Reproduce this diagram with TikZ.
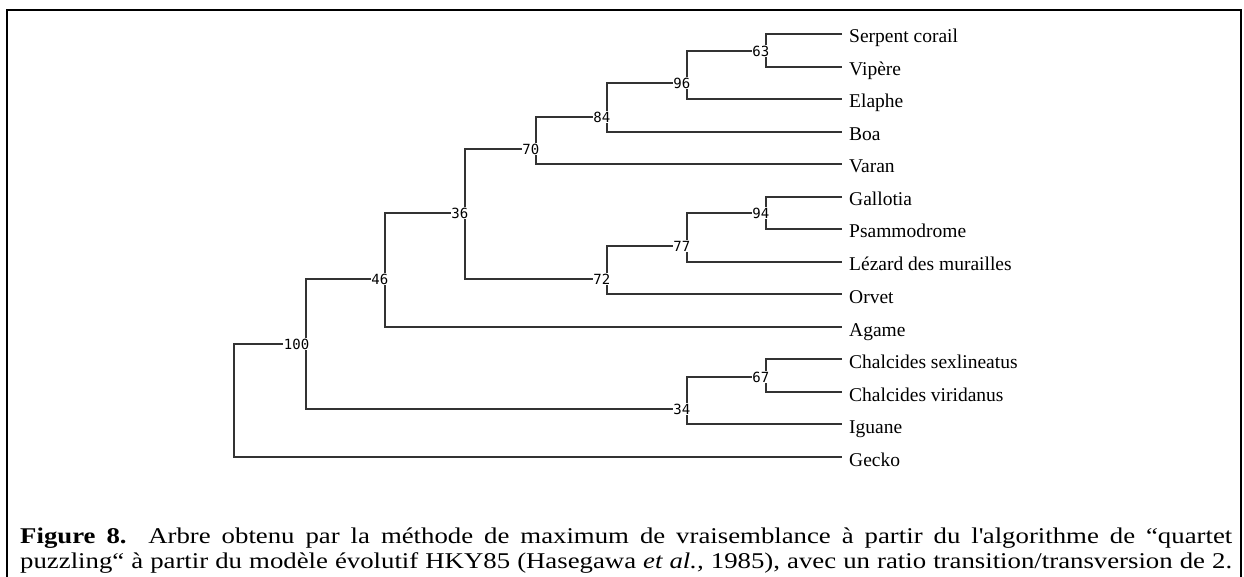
\documentclass[tikz,border=0pt]{standalone}
\usepackage{fontspec}
\setmainfont{Liberation Serif}
\newfontfamily\capfont{Liberation Serif}[FakeStretch=1.19]
\newfontfamily\bootfont{DejaVu Sans Mono}
\tikzset{
  branch/.style={draw=black!80, line width=2pt},
  leaf/.style={anchor=west, inner ysep=0pt, inner xsep=7pt,
               text height=18pt, text depth=0pt,
               font=\fontsize{19.5}{21}\selectfont},
  boot/.style={anchor=east, fill=white, inner sep=0.6pt, text=black,
               font=\bootfont\fontsize{14}{14}\selectfont},
  frame/.style={draw=black, line width=2pt}
}
\begin{document}
\begin{tikzpicture}[x=1pt, y=-1pt]
\useasboundingbox (0,0) rectangle (1244,577);
% outer frame
\draw[frame] (7,577) -- (7,10) -- (1241,10) -- (1241,577);

% leaves (tips end at x = 842)
\node[leaf] (serp)  at (842,34)  {Serpent corail};
\node[leaf] (vip)   at (842,67)  {Vipère};
\node[leaf] (ela)   at (842,99)  {Elaphe};
\node[leaf] (boa)   at (842,132) {Boa};
\node[leaf] (var)   at (842,164) {Varan};
\node[leaf] (gal)   at (842,197) {Gallotia};
\node[leaf] (psa)   at (842,229) {Psammodrome};
\node[leaf] (lez)   at (842,262) {Lézard des murailles};
\node[leaf] (orv)   at (842,294) {Orvet};
\node[leaf] (aga)   at (842,327) {Agame};
\node[leaf] (csex)  at (842,359) {Chalcides sexlineatus};
\node[leaf] (cvir)  at (842,392) {Chalcides viridanus};
\node[leaf] (igu)   at (842,424) {Iguane};
\node[leaf] (gec)   at (842,457) {Gecko};

% internal nodes
\coordinate (n63)  at (766,51);
\coordinate (n96)  at (687,83);
\coordinate (n84)  at (607,117);
\coordinate (n70)  at (536,149);
\coordinate (n94)  at (766,213);
\coordinate (n77)  at (687,246);
\coordinate (n72)  at (607,279);
\coordinate (n36)  at (465,213);
\coordinate (n46)  at (385,279);
\coordinate (n67)  at (766,377);
\coordinate (n34)  at (687,409);
\coordinate (n100) at (306,344);
\coordinate (root) at (234,344);

% branches
\draw[branch] (serp.west) -| (n63) |- (vip.west);
\draw[branch] (n63) -| (n96) |- (ela.west);
\draw[branch] (n96) -| (n84) |- (boa.west);
\draw[branch] (n84) -| (n70) |- (var.west);
\draw[branch] (gal.west) -| (n94) |- (psa.west);
\draw[branch] (n94) -| (n77) |- (lez.west);
\draw[branch] (n77) -| (n72) |- (orv.west);
\draw[branch] (n70) -| (n36) |- (n72);
\draw[branch] (n36) -| (n46) |- (aga.west);
\draw[branch] (csex.west) -| (n67) |- (cvir.west);
\draw[branch] (n67) -| (n34) |- (igu.west);
\draw[branch] (n46) -| (n100) |- (n34);
\draw[branch] (n100) -- (root) |- (gec.west);

% support values
\node[boot] (b63)  at ([xshift=4pt]n63)  {63};
\node[boot] (b96)  at ([xshift=4pt]n96)  {96};
\node[boot] (b84)  at ([xshift=4pt]n84)  {84};
\node[boot] (b70)  at ([xshift=4pt]n70)  {70};
\node[boot] (b94)  at ([xshift=4pt]n94)  {94};
\node[boot] (b77)  at ([xshift=4pt]n77)  {77};
\node[boot] (b72)  at ([xshift=4pt]n72)  {72};
\node[boot] (b36)  at ([xshift=4pt]n36)  {36};
\node[boot] (b46)  at ([xshift=4pt]n46)  {46};
\node[boot] (b67)  at ([xshift=4pt]n67)  {67};
\node[boot] (b34)  at ([xshift=4pt]n34)  {34};
\node[boot] (b100) at ([xshift=4pt]n100) {100};

% caption
\node[anchor=base west, inner sep=0pt] (cap) at (20,543) {\parbox[t]{1212pt}{%
  \capfont\fontsize{22.5}{25}\selectfont\parfillskip=0pt\hyphenpenalty=10000
  \textbf{Figure 8.} Arbre obtenu par la méthode de maximum de vraisemblance à partir du l\textquotesingle algorithme de “quartet\linebreak
  puzzling“ à partir du modèle évolutif HKY85 (Hasegawa \textit{et al.,} 1985), avec un ratio transition/transversion de 2.}};
\end{tikzpicture}
\end{document}
